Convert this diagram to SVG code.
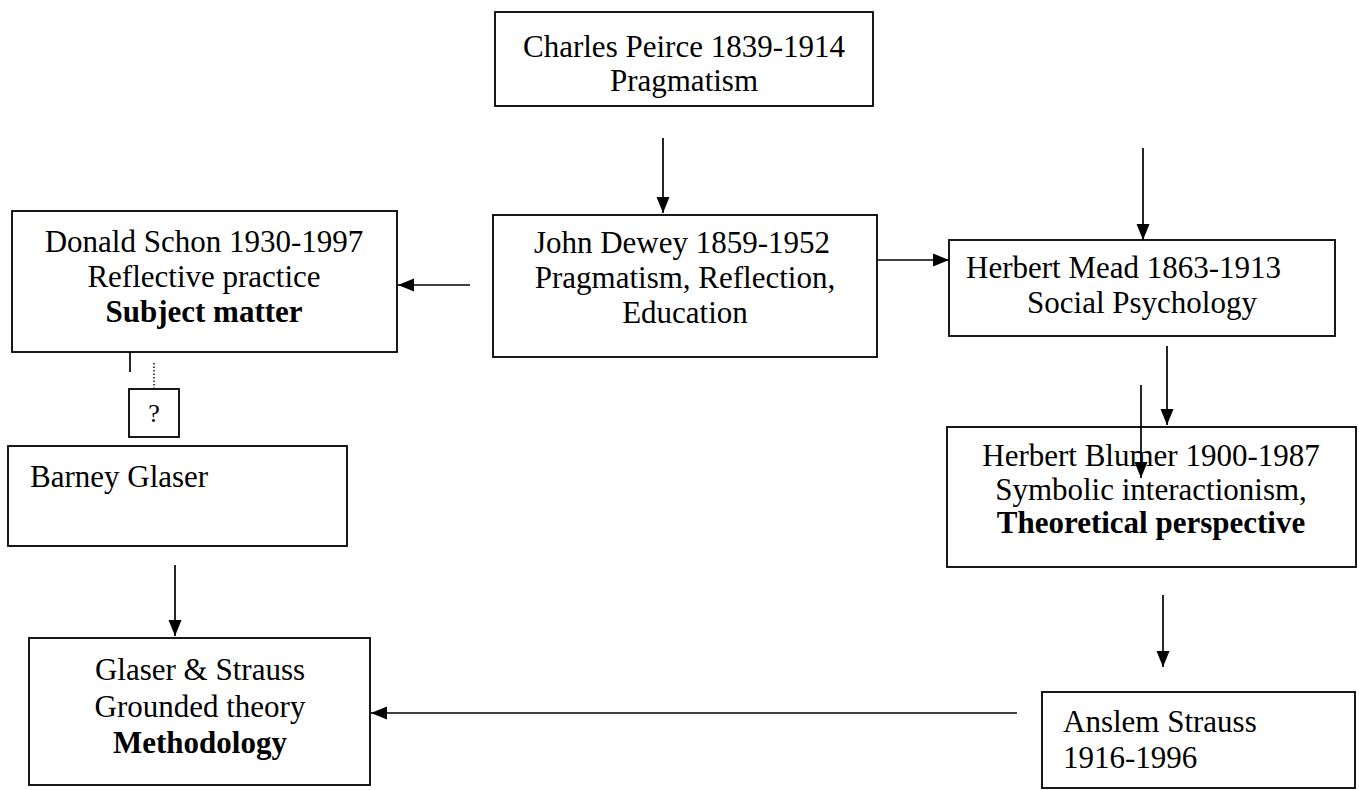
<svg xmlns="http://www.w3.org/2000/svg" width="1359" height="790" viewBox="0 0 1359 790">
<style>
.box{fill:#fff;stroke:#000;stroke-width:1.8}
.t{font-family:"Liberation Serif","Times New Roman",serif;font-size:31px;fill:#000}
.c{text-anchor:middle}
.b{font-weight:bold}
.ln{stroke:#000;stroke-width:1.7;fill:none}
.dot{stroke:#000;stroke-width:1.4;stroke-dasharray:1.5 2;fill:none}
</style>
<defs>
<marker id="ah" markerUnits="userSpaceOnUse" markerWidth="16" markerHeight="14" viewBox="0 0 16 14" refX="16" refY="7" orient="auto">
<path d="M0,0.5 L16,7 L0,13.5 z" fill="#000"/>
</marker>
</defs>
<rect width="1359" height="790" fill="#fff"/>
<g id="peirce">
<rect class="box" x="495" y="12" width="378" height="94"/>
<text class="t c" x="684" y="57">Charles Peirce 1839-1914</text>
<text class="t c" x="684" y="91">Pragmatism</text>
</g>
<g id="dewey">
<rect class="box" x="493" y="215" width="384" height="142"/>
<text class="t c" x="682" y="253">John Dewey 1859-1952</text>
<text class="t c" x="685" y="288">Pragmatism, Reflection,</text>
<text class="t c" x="685" y="323">Education</text>
</g>
<g id="schon">
<rect class="box" x="12" y="211" width="385" height="141"/>
<text class="t c" x="204" y="252">Donald Schon 1930-1997</text>
<text class="t c" x="204" y="287">Reflective practice</text>
<text class="t c b" x="204" y="322">Subject matter</text>
</g>
<g id="question">
<rect class="box" x="129" y="389" width="50" height="48"/>
<text class="t c" x="154" y="422" style="font-size:26px">?</text>
</g>
<g id="barney">
<rect class="box" x="8" y="446" width="339" height="100"/>
<text class="t" x="30" y="487">Barney Glaser</text>
</g>
<g id="glaser-strauss">
<rect class="box" x="29" y="638" width="341" height="147"/>
<text class="t c" x="200" y="680">Glaser &amp; Strauss</text>
<text class="t c" x="200" y="717">Grounded theory</text>
<text class="t c b" x="200" y="753">Methodology</text>
</g>
<g id="mead">
<rect class="box" x="949" y="240" width="386" height="96"/>
<text class="t" x="966" y="278">Herbert Mead 1863-1913</text>
<text class="t c" x="1142" y="313">Social Psychology</text>
</g>
<g id="blumer">
<rect class="box" x="947" y="427" width="409" height="140"/>
<text class="t c" x="1151" y="466">Herbert Blumer 1900-1987</text>
<text class="t c" x="1151" y="500">Symbolic interactionism,</text>
<text class="t c b" x="1151" y="533">Theoretical perspective</text>
</g>
<g id="strauss">
<rect class="box" x="1042" y="692" width="313" height="96"/>
<text class="t" x="1063" y="732">Anslem Strauss</text>
<text class="t" x="1063" y="768">1916-1996</text>
</g>
<g id="connectors">
<line class="ln" x1="663" y1="138" x2="663" y2="213" marker-end="url(#ah)"/>
<line class="ln" x1="470" y1="285" x2="398" y2="285" marker-end="url(#ah)"/>
<line class="ln" x1="877" y1="260" x2="949" y2="260" marker-end="url(#ah)"/>
<line class="ln" x1="1143" y1="148" x2="1143" y2="240" marker-end="url(#ah)"/>
<line class="ln" x1="1167" y1="346" x2="1167" y2="425" marker-end="url(#ah)"/>
<line class="ln" x1="1141" y1="385" x2="1141" y2="478" marker-end="url(#ah)"/>
<line class="ln" x1="1163" y1="595" x2="1163" y2="667" marker-end="url(#ah)"/>
<line class="ln" x1="1017" y1="713" x2="371" y2="713" marker-end="url(#ah)"/>
<line class="ln" x1="175" y1="565" x2="175" y2="636" marker-end="url(#ah)"/>
<line class="ln" x1="130" y1="352" x2="130" y2="372"/>
<line class="dot" x1="154" y1="363" x2="154" y2="388"/>
</g>
</svg>
